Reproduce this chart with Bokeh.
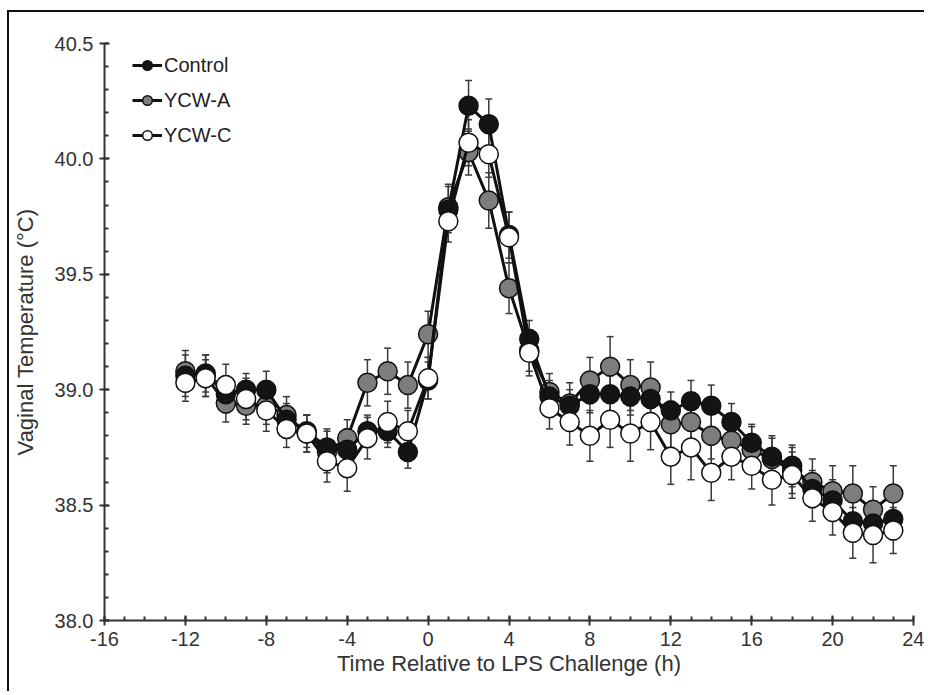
from bokeh.plotting import figure
from bokeh.models import (ColumnDataSource, Range1d, FixedTicker, PrintfTickFormatter,
                          Whisker, TeeHead, Legend, LegendItem)
from bokeh.embed import file_html
from bokeh.resources import INLINE

hours = list(range(-12, 24))

control = [39.06, 39.07, 38.98, 39.00, 39.00, 38.87, 38.82, 38.75, 38.74, 38.82, 38.82, 38.73,
           39.04, 39.78, 40.23, 40.15, 39.67, 39.22, 38.97, 38.93, 38.98, 38.98, 38.97, 38.96,
           38.91, 38.95, 38.93, 38.86, 38.77, 38.71, 38.67, 38.57, 38.52, 38.43, 38.42, 38.44]
ycw_a = [39.08, 39.06, 38.94, 38.93, 38.93, 38.89, 38.81, 38.73, 38.79, 39.03, 39.08, 39.02,
         39.24, 39.79, 40.03, 39.82, 39.44, 39.17, 38.99, 38.94, 39.04, 39.10, 39.02, 39.01,
         38.85, 38.86, 38.80, 38.78, 38.74, 38.70, 38.65, 38.60, 38.56, 38.55, 38.48, 38.55]
ycw_c = [39.03, 39.05, 39.02, 38.96, 38.91, 38.83, 38.81, 38.69, 38.66, 38.79, 38.86, 38.82,
         39.05, 39.73, 40.07, 40.02, 39.66, 39.16, 38.92, 38.86, 38.80, 38.87, 38.81, 38.86,
         38.71, 38.75, 38.64, 38.71, 38.67, 38.61, 38.63, 38.53, 38.47, 38.38, 38.37, 38.39]

control_se = [0.09, 0.08, 0.08, 0.07, 0.08, 0.07, 0.07, 0.08, 0.09, 0.07, 0.07, 0.07,
              0.08, 0.10, 0.11, 0.11, 0.10, 0.08, 0.07, 0.07, 0.08, 0.08, 0.08, 0.08,
              0.08, 0.09, 0.09, 0.08, 0.08, 0.08, 0.09, 0.08, 0.09, 0.09, 0.08, 0.09]
ycw_a_se = [0.09, 0.09, 0.08, 0.08, 0.08, 0.08, 0.08, 0.09, 0.08, 0.10, 0.10, 0.10,
            0.10, 0.10, 0.10, 0.12, 0.11, 0.09, 0.08, 0.09, 0.10, 0.13, 0.11, 0.11,
            0.10, 0.10, 0.10, 0.10, 0.10, 0.10, 0.10, 0.10, 0.11, 0.12, 0.10, 0.12]
ycw_c_se = [0.08, 0.08, 0.09, 0.09, 0.09, 0.08, 0.08, 0.09, 0.10, 0.09, 0.09, 0.09,
            0.09, 0.09, 0.10, 0.10, 0.11, 0.10, 0.09, 0.10, 0.11, 0.12, 0.12, 0.12,
            0.12, 0.14, 0.12, 0.10, 0.10, 0.11, 0.10, 0.10, 0.10, 0.11, 0.12, 0.10]

series_names = ["Control", "YCW-A", "YCW-C"]
x_ticks = [-16, -12, -8, -4, 0, 4, 8, 12, 16, 20, 24]
y_ticks = [38.0, 38.5, 39.0, 39.5, 40.0, 40.5]
x_minor = list(range(-16, 25))
y_minor = [round(38.0 + 0.1 * i, 1) for i in range(26)]

FONT = "Liberation Sans"
INK = "#222222"

p = figure(width=917, height=681, output_backend="svg", toolbar_location=None,
           x_range=Range1d(-16, 24), y_range=Range1d(38.0, 40.5),
           min_border_left=95, min_border_right=13, min_border_top=31, min_border_bottom=73,
           background_fill_color="white", border_fill_color="white")
p.outline_line_color = None
p.grid.visible = False

for ax in (p.xaxis[0], p.yaxis[0]):
    ax.axis_line_color = "#333333"
    ax.axis_line_width = 2
    ax.major_tick_line_color = "#333333"
    ax.major_tick_line_width = 2
    ax.minor_tick_line_color = "#333333"
    ax.minor_tick_line_width = 2
    ax.major_tick_in = 5
    ax.major_tick_out = 5
    ax.minor_tick_in = 4
    ax.minor_tick_out = 0
    ax.major_label_text_font = FONT
    ax.major_label_text_font_size = "20px"
    ax.major_label_text_color = "#333333"
    ax.axis_label_text_font = FONT
    ax.axis_label_text_font_size = "22px"
    ax.axis_label_text_font_style = "normal"
    ax.axis_label_text_color = "#333333"
    ax.major_label_standoff = 6

p.xaxis.ticker = FixedTicker(ticks=x_ticks, minor_ticks=x_minor)
p.yaxis.ticker = FixedTicker(ticks=y_ticks, minor_ticks=y_minor)
p.xaxis.formatter = PrintfTickFormatter(format="%d")
p.yaxis.formatter = PrintfTickFormatter(format="%.1f")
p.xaxis.axis_label = "Time Relative to LPS Challenge (h)"
p.yaxis.axis_label = "Vaginal Temperature (°C)"
p.xaxis.axis_label_standoff = 2
p.yaxis.axis_label_standoff = 14

styles = {
    "YCW-A": dict(y=ycw_a, se=ycw_a_se, fill="#7d7d7d"),
    "Control": dict(y=control, se=control_se, fill="#141414"),
    "YCW-C": dict(y=ycw_c, se=ycw_c_se, fill="#ffffff"),
}

renderers = {}
for name in ["YCW-A", "Control", "YCW-C"]:
    s = styles[name]
    src = ColumnDataSource(dict(
        x=hours, y=s["y"],
        upper=[v + e for v, e in zip(s["y"], s["se"])],
        lower=[v - e for v, e in zip(s["y"], s["se"])],
    ))
    w = Whisker(base="x", upper="upper", lower="lower", source=src, level="underlay",
                line_color="#3a3a3a", line_width=1.5,
                upper_head=TeeHead(size=7, line_color="#3a3a3a", line_width=1.5),
                lower_head=TeeHead(size=7, line_color="#3a3a3a", line_width=1.5))
    p.add_layout(w)
    ln = p.line("x", "y", source=src, line_color="#111111", line_width=3)
    sc = p.scatter("x", "y", source=src, marker="circle", size=19,
                   fill_color=s["fill"], line_color="#111111", line_width=1.5)
    renderers[name] = [ln, sc]

legend = Legend(items=[LegendItem(label=n, renderers=renderers[n]) for n in series_names],
                location=(28, 473), orientation="vertical",
                glyph_width=30, glyph_height=24, spacing=11, padding=0, margin=0,
                label_standoff=2, label_text_font=FONT, label_text_font_size="20px",
                label_text_color=INK, background_fill_alpha=0, border_line_color=None)
p.add_layout(legend)

p.styles = {"margin-left": "7px", "margin-top": "10px",
            "border-left": "2px solid #111111", "border-top": "2px solid #111111"}

open("out.html", "w").write(file_html(p, INLINE))
